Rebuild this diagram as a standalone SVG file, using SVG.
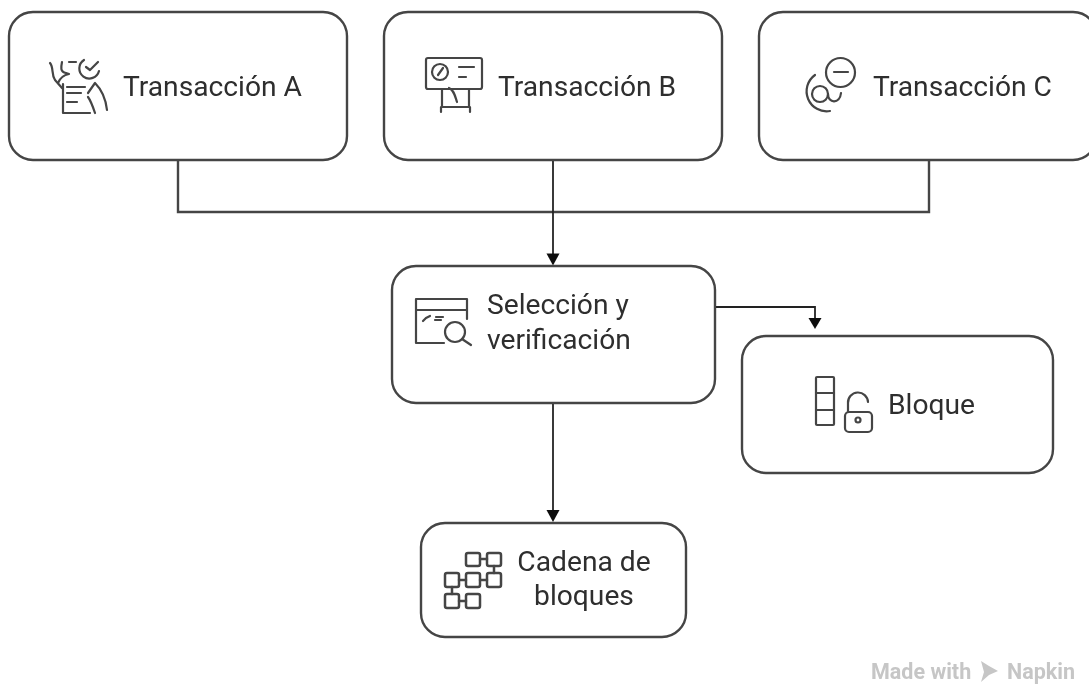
<svg xmlns="http://www.w3.org/2000/svg" width="1089" height="684" viewBox="0 0 1089 684">
<style>
.box{fill:#fff;stroke:#444;stroke-width:2.400}
.line{fill:none;stroke:#444;stroke-width:2.400}
.dark{fill:none;stroke:#222;stroke-width:1.800}
.head{fill:#111}
.ic{fill:none;stroke:#444;stroke-width:2.200;stroke-linecap:round;stroke-linejoin:round}
.t{font-family:Roboto,"Liberation Sans",sans-serif;font-size:28.200px;fill:#2e2e2e}
.wm{font-family:Roboto,"Liberation Sans",sans-serif;font-size:21.500px;font-weight:700;fill:#c6c6c6}
</style>
<defs>
<filter id="soft" x="0" y="0" width="1089" height="684" filterUnits="userSpaceOnUse"><feGaussianBlur stdDeviation="0.7"/></filter>
</defs>
<rect width="1089" height="684" fill="#fff"/>
<g filter="url(#soft)">
<g id="connectors">
<path class="line" d="M178 160V212H929V160"/>
<path class="dark" d="M553 160V254"/>
<path class="dark" d="M553 403V511"/>
<path class="dark" d="M715 307H815V319"/>
<path class="head" d="M546.500 253.500H559.500L553 265.500Z"/>
<path class="head" d="M546.500 510H559.500L553 522Z"/>
<path class="head" d="M808.500 318H821.500L815 329Z"/>
</g>
<g id="node-a">
<rect class="box" x="9" y="12" width="338" height="148" rx="24"/>
<g class="ic">
<path d="M50 63C54 68 51 74 55 80L62 88"/>
<path d="M62 62C61 67 60 72 66 73L69 74C64 75 60 78 58 83"/>
<path d="M69 62H76"/>
<path d="M84 60A10 10 0 1 0 99 71"/>
<path d="M86 67L90 70L98 62"/>
<path d="M63 84V113H90M67 87H85M67 93H81M67 102H77"/>
<path d="M107 110C106 101 104 92 95 83L88 93M88 97C91 101 93 107 95 113"/>
</g>
<text class="t" x="123" y="96">Transacción A</text>
</g>
<g id="node-b">
<rect class="box" x="384" y="12" width="338" height="148" rx="24"/>
<g class="ic">
<rect x="426" y="58" width="56" height="31" rx="2"/>
<circle cx="440" cy="72" r="8"/>
<path d="M438 75L443 68M459 67H474M459 77H466"/>
<path d="M442 90V107H469V90M441 107V112M470 107V112M449 88C454 90 455 96 457 102"/>
</g>
<text class="t" x="498" y="96">Transacción B</text>
</g>
<g id="node-c">
<rect class="box" x="759" y="12" width="338" height="148" rx="24"/>
<g class="ic">
<circle cx="840.500" cy="72.500" r="14.500"/>
<path d="M834 72H848"/>
<path d="M815 75A20 20 0 0 0 830 111"/>
<circle cx="820" cy="94" r="8"/>
<path d="M828 94C828 104 840 104 841 93"/>
</g>
<text class="t" x="873" y="96">Transacción C</text>
</g>
<g id="node-seleccion">
<rect class="box" x="392" y="266" width="323" height="137" rx="24"/>
<g class="ic">
<path d="M444 343H416V299H467V319M416 310H467"/>
<path d="M423 321L426 318L430 316M436 317H443M435 320H441"/>
<circle cx="455" cy="332" r="10"/>
<path d="M462 339L471 345"/>
</g>
<text class="t" x="487" y="314">Selección y</text>
<text class="t" x="487" y="349">verificación</text>
</g>
<g id="node-bloque">
<rect class="box" x="742" y="336" width="311" height="137" rx="24"/>
<g class="ic">
<rect x="816" y="377" width="18" height="48" rx="1"/>
<path d="M816 393H834M816 410H834"/>
<rect x="845" y="412" width="27" height="20" rx="4"/>
<circle cx="858" cy="420" r="2.500"/>
<path d="M848 411V403A10 10 0 0 1 868 402"/>
</g>
<text class="t" x="888" y="414">Bloque</text>
</g>
<g id="node-cadena">
<rect class="box" x="421" y="523" width="265" height="114" rx="24"/>
<g class="ic" style="stroke-width:2.500">
<rect x="466" y="553" width="14" height="13" rx="2"/>
<rect x="487" y="553" width="14" height="13" rx="2"/>
<rect x="445" y="573" width="14" height="14" rx="2"/>
<rect x="466" y="573" width="14" height="14" rx="2"/>
<rect x="487" y="573" width="14" height="14" rx="2"/>
<rect x="445" y="594" width="14" height="14" rx="2"/>
<rect x="466" y="594" width="14" height="14" rx="2"/>
<path d="M480 559H487M494 566V573M459 580H466M480 580H487M452 587V594M459 601H466"/>
</g>
<text class="t" x="584" y="571" text-anchor="middle">Cadena de</text>
<text class="t" x="584" y="605" text-anchor="middle">bloques</text>
</g>
<g id="watermark">
<text class="wm" x="871" y="679">Made with</text>
<path d="M981 661L989 666L998 671L989 675L981 682L984 672Z" fill="#c6c6c6"/>
<text class="wm" x="1007" y="679">Napkin</text>
</g>
</g>
</svg>
